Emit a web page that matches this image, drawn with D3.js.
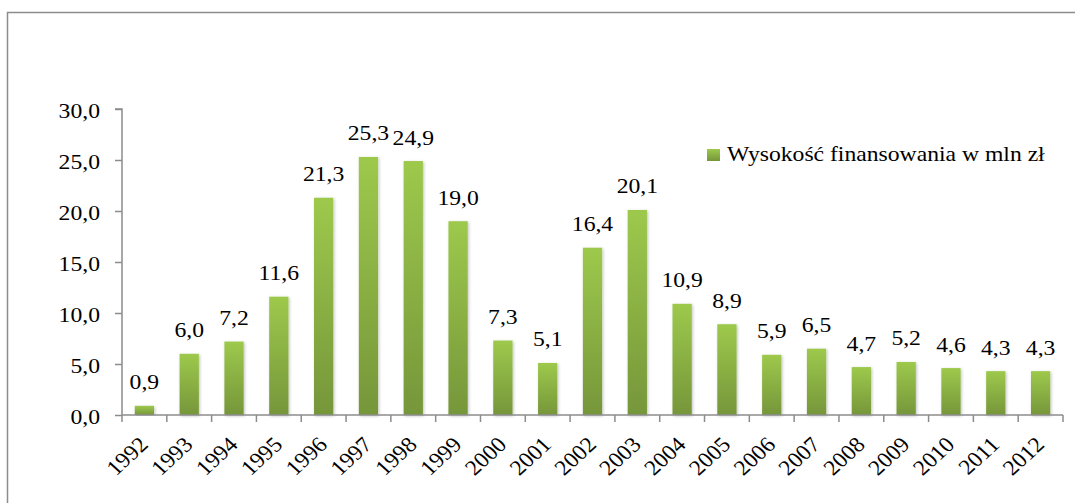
<!DOCTYPE html>
<html>
<head>
<meta charset="utf-8">
<script src="https://cdn.jsdelivr.net/npm/d3@7"></script>
<style>
  body { margin: 0; background: #fff; }
  svg text { font-family: "Liberation Serif", "Times New Roman", serif; fill: #000; }
</style>
</head>
<body>
<div id="chart"></div>
<script>
const years = ["1992", "1993", "1994", "1995", "1996", "1997", "1998", "1999", "2000", "2001", "2002",
  "2003", "2004", "2005", "2006", "2007", "2008", "2009", "2010", "2011", "2012"];
const funding = [0.9, 6.0, 7.2, 11.6, 21.3, 25.3, 24.9, 19.0, 7.3, 5.1, 16.4,
  20.1, 10.9, 8.9, 5.9, 6.5, 4.7, 5.2, 4.6, 4.3, 4.3];
const yTicks = [0, 5, 10, 15, 20, 25, 30];
const seriesName = "Wysokość finansowania w mln zł";

const width = 1075, height = 503;
const margin = { left: 122, right: 12, top: 109, bottom: 88 };
const fontSize = "21.5px";
const stretch = 1.1; // the source image is a bit wider than tall

const fmt = d => d3.format(".1f")(d).replace(".", ",");

const svg = d3.select("#chart").append("svg")
  .attr("width", width)
  .attr("height", height);

const defs = svg.append("defs");
const grad = defs.append("linearGradient")
  .attr("id", "barGrad")
  .attr("x1", 0).attr("y1", 0).attr("x2", 0).attr("y2", 1);
grad.append("stop").attr("offset", "0%").attr("stop-color", "#9dc94c");
grad.append("stop").attr("offset", "100%").attr("stop-color", "#76963a");

const shadow = defs.append("filter").attr("id", "shadow")
  .attr("x", "-30%").attr("y", "-10%").attr("width", "160%").attr("height", "120%");
shadow.append("feDropShadow")
  .attr("dx", 1).attr("dy", 1).attr("stdDeviation", 1.5)
  .attr("flood-color", "#000").attr("flood-opacity", 0.25);

// outer frame
svg.append("rect")
  .attr("x", 7.5).attr("y", 12.5)
  .attr("width", 1100).attr("height", 520)
  .attr("fill", "none")
  .attr("stroke", "#8c8c8c")
  .attr("stroke-width", 1.5);

const x = d3.scaleBand()
  .domain(years)
  .range([margin.left, width - margin.right])
  .paddingInner(0.57)
  .paddingOuter(0.285);

const xOuter = d3.scaleBand()
  .domain(years)
  .range([margin.left, width - margin.right]);

const y = d3.scaleLinear()
  .domain([0, 30])
  .range([height - margin.bottom, margin.top]);

// y axis
const yAxis = svg.append("g")
  .attr("transform", `translate(${margin.left},0)`)
  .call(d3.axisLeft(y).tickValues(yTicks).tickSize(7).tickPadding(15).tickFormat(fmt));
yAxis.selectAll("line, path").attr("stroke", "#8c8c8c").attr("stroke-width", 1.5);
yAxis.select(".domain").attr("d", `M-7,${y(30)}H0V${y(0)}`);
yAxis.selectAll("text")
  .style("font-family", "Liberation Serif, serif")
  .style("font-size", fontSize)
  .attr("x", 0)
  .attr("dy", "0.38em")
  .attr("transform", `translate(-22,0) scale(${stretch},1)`);

// bars
svg.append("g").selectAll("rect")
  .data(funding)
  .enter()
  .append("rect")
  .attr("x", (d, i) => x(years[i]))
  .attr("y", d => y(d))
  .attr("width", x.bandwidth())
  .attr("height", d => y(0) - y(d))
  .attr("fill", "url(#barGrad)")
  .attr("filter", "url(#shadow)");

// x axis
const xAxisG = svg.append("g")
  .attr("transform", `translate(0,${y(0)})`);
xAxisG.append("line")
  .attr("x1", margin.left).attr("x2", width - margin.right)
  .attr("y1", 0).attr("y2", 0)
  .attr("stroke", "#8c8c8c").attr("stroke-width", 1.5);
const boundaries = years.map(d => xOuter(d)).concat([width - margin.right]);
xAxisG.selectAll("line.tick")
  .data(boundaries)
  .enter()
  .append("line")
  .attr("class", "tick")
  .attr("x1", d => d).attr("x2", d => d)
  .attr("y1", 0).attr("y2", 7)
  .attr("stroke", "#8c8c8c").attr("stroke-width", 1.5);

xAxisG.selectAll("text")
  .data(years)
  .enter()
  .append("text")
  .attr("transform", d => `translate(${xOuter(d) + xOuter.bandwidth() / 2 + 5},31) scale(${stretch},1) rotate(-45)`)
  .attr("text-anchor", "end")
  .style("font-size", fontSize)
  .text(d => d);

// value labels
svg.append("g").selectAll("text")
  .data(funding)
  .enter()
  .append("text")
  .attr("transform", (d, i) => `translate(${x(years[i]) + x.bandwidth() / 2},${y(d) - 16.5}) scale(${stretch},1)`)
  .attr("text-anchor", "middle")
  .style("font-size", fontSize)
  .text(fmt);

// legend
const legend = svg.append("g").attr("transform", "translate(707,149)");
legend.append("rect")
  .attr("width", 13).attr("height", 12)
  .attr("fill", "url(#barGrad)");
legend.append("text")
  .attr("transform", `translate(20,12) scale(${stretch},1)`)
  .style("font-size", fontSize)
  .text(seriesName);
</script>
</body>
</html>
